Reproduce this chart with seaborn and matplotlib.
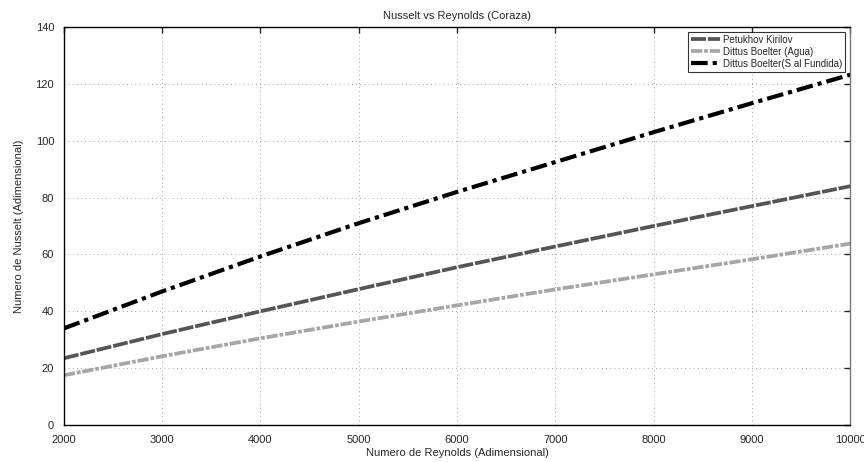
import matplotlib
matplotlib.use("Agg")
import matplotlib.pyplot as plt
import seaborn as sns
import pandas as pd

reynolds = [2000, 3000, 4000, 5000, 6000, 7000, 8000, 9000, 10000]
petukhov = [23.5, 32.0, 40.0, 47.8, 55.5, 62.8, 70.0, 77.0, 84.0]
dittus_agua = [17.5, 24.2, 30.5, 36.4, 42.1, 47.7, 53.0, 58.3, 63.8]
dittus_sal = [34.0, 47.0, 59.3, 71.0, 82.0, 92.5, 103.0, 113.2, 123.2]
labels = ["Petukhov Kirilov", "Dittus Boelter (Agua)", "Dittus Boelter(S al Fundida)"]

sns.set_style("white")
plt.rcParams['font.family'] = ['Liberation Sans', 'DejaVu Sans']

fig = plt.figure(figsize=(8.64, 4.62), dpi=100)
ax = fig.add_axes([0.074, 0.080, 0.910, 0.8616])

styles = [
    dict(color="#555555", lw=2.7, dashes=(4, 0.5)),
    dict(color="#a6a6a6", lw=2.7, dashes=(3, 0.5, 1, 0.5)),
    dict(color="#000000", lw=3.0, dashes=(4, 1.2, 1, 1.2)),
]
for vals, lab, st in zip([petukhov, dittus_agua, dittus_sal], labels, styles):
    df = pd.DataFrame({"Re": reynolds, "Nu": vals})
    sns.lineplot(data=df, x="Re", y="Nu", ax=ax, label=lab, color=st["color"],
                 linewidth=st["lw"])
    ax.lines[-1].set_dashes(st["dashes"])

ax.set_xlim(2000, 10000)
ax.set_ylim(0, 140)
ax.set_xticks(range(2000, 10001, 1000))
ax.set_yticks(range(0, 141, 20))
ax.grid(True, linestyle=(0, (1, 4)), color="#888888", linewidth=0.6)
ax.tick_params(direction="in", length=4, width=1, labelsize=8, top=True, right=True,
               pad=7)
for s in ax.spines.values():
    s.set_color("black")
    s.set_linewidth(1.0)
ax.spines["right"].set_color("#777777")
ax.set_xlabel("Numero de Reynolds (Adimensional)", fontsize=8, labelpad=2)
ax.set_ylabel("Numero de Nusselt (Adimensional)", fontsize=8, labelpad=8)
ax.set_title("Nusselt vs Reynolds (Coraza)", fontsize=8, pad=6)
leg = ax.legend(loc="upper right", fontsize=7, frameon=True, fancybox=False,
                handlelength=3.0, borderpad=0.3, labelspacing=0.2, handletextpad=0.3,
                borderaxespad=0.5)
leg.get_frame().set_edgecolor("black")
leg.get_frame().set_linewidth(0.8)

fig.savefig("out.png", dpi=100)
